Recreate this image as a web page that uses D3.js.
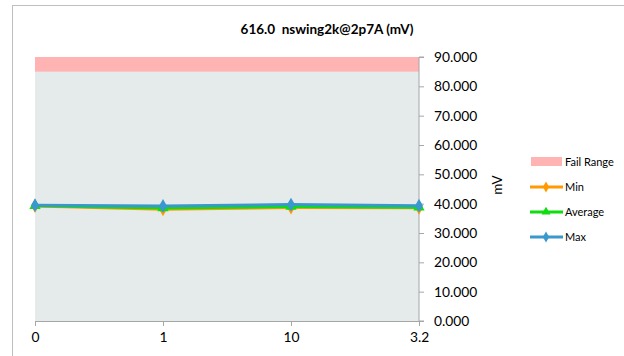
<!DOCTYPE html>
<html><head><meta charset="utf-8">
<script src="https://cdn.jsdelivr.net/npm/d3@7"></script>
<style>body{margin:0;background:#fff}svg{display:block;font-family:Lato,'Open Sans',sans-serif}</style>
</head><body><svg id="c" width="624" height="356"></svg>
<script>
const categories = ["0", "1", "10", "3.2"];
const minValues = [39.2, 38.1, 38.7, 38.6];
const avgValues = [39.3, 38.5, 39.0, 38.8];
const maxValues = [39.5, 39.2, 39.7, 39.3];
const failRange = [85, 90];
const yTicks = [0, 10, 20, 30, 40, 50, 60, 70, 80, 90];
const title = "616.0  nswing2k@2p7A (mV)";

const svg = d3.select("#c");
svg.append("rect").attr("x", 12.5).attr("y", 5.5).attr("width", 640).attr("height", 400)
  .attr("fill", "#fff").attr("stroke", "#bfbfbf");

const L = 35, R = 419, T = 57, B = 321;
const x = d3.scalePoint().domain(categories).range([L, R]).padding(0);
const y = d3.scaleLinear().domain([0, 90]).range([B, T]);

svg.append("rect").attr("x", L).attr("y", T).attr("width", R - L).attr("height", B - T).attr("fill", "#e5ebeb");
svg.append("rect").attr("x", L).attr("y", y(failRange[1])).attr("width", R - L)
  .attr("height", y(failRange[0]) - y(failRange[1])).attr("fill", "#ffb3b3");

const xAxis = svg.append("g").attr("transform", `translate(0,${B})`)
  .call(d3.axisBottom(x).tickSize(5).tickPadding(6));
const yAxis = svg.append("g").attr("transform", `translate(${R},0)`)
  .call(d3.axisRight(y).tickValues(yTicks).tickSize(5).tickPadding(10).tickFormat(d3.format(".3f")));
[xAxis, yAxis].forEach(g => {
  g.select(".domain").attr("stroke", "#a6a6a6");
  g.selectAll(".tick line").attr("stroke", "#a6a6a6");
  g.selectAll("text").attr("fill", "#000").attr("font-size", 13.8).attr("font-family", "Lato,'Open Sans',sans-serif");
});
yAxis.select(".domain").attr("d", `M5,${T}H0V${B}H5`);

svg.append("text").attr("transform", "translate(502,185) rotate(-90)").attr("text-anchor", "middle")
  .attr("font-size", 13.5).text("mV");
svg.append("text").attr("x", 327).attr("y", 34).attr("text-anchor", "middle")
  .style("white-space", "pre")
  .attr("font-size", 13.5).attr("font-weight", "bold").text(title);

const series = [
  {name: "Min", values: minValues, color: "#ff9a00", shape: d3.symbolDiamond},
  {name: "Average", values: avgValues, color: "#10dd10", shape: d3.symbolTriangle},
  {name: "Max", values: maxValues, color: "#3a98cc", shape: d3.symbolDiamond}
];
const line = d3.line().x((d, i) => x(categories[i])).y(d => y(d));
series.forEach(s => {
  svg.append("path").datum(s.values).attr("d", line).attr("fill", "none")
    .attr("stroke", s.color).attr("stroke-width", 3);
  svg.selectAll(null).data(s.values).enter().append("path")
    .attr("transform", (d, i) => `translate(${x(categories[i])},${y(d)})`)
    .attr("d", d3.symbol().type(s.shape).size(55)).attr("fill", s.color);
});

// legend
const lg = svg.append("g");
lg.append("rect").attr("x", 531).attr("y", 157).attr("width", 31).attr("height", 9).attr("fill", "#ffb3b3");
lg.append("text").attr("x", 565).attr("y", 166).attr("font-size", 11).text("Fail Range");
series.forEach((s, i) => {
  const yy = 187 + i * 25;
  lg.append("line").attr("x1", 530).attr("x2", 563).attr("y1", yy).attr("y2", yy)
    .attr("stroke", s.color).attr("stroke-width", 3);
  lg.append("path").attr("transform", `translate(546,${yy})`)
    .attr("d", d3.symbol().type(s.shape).size(35)).attr("fill", s.color);
  lg.append("text").attr("x", 565).attr("y", yy + 4).attr("font-size", 11).text(s.name);
});
</script></body></html>
